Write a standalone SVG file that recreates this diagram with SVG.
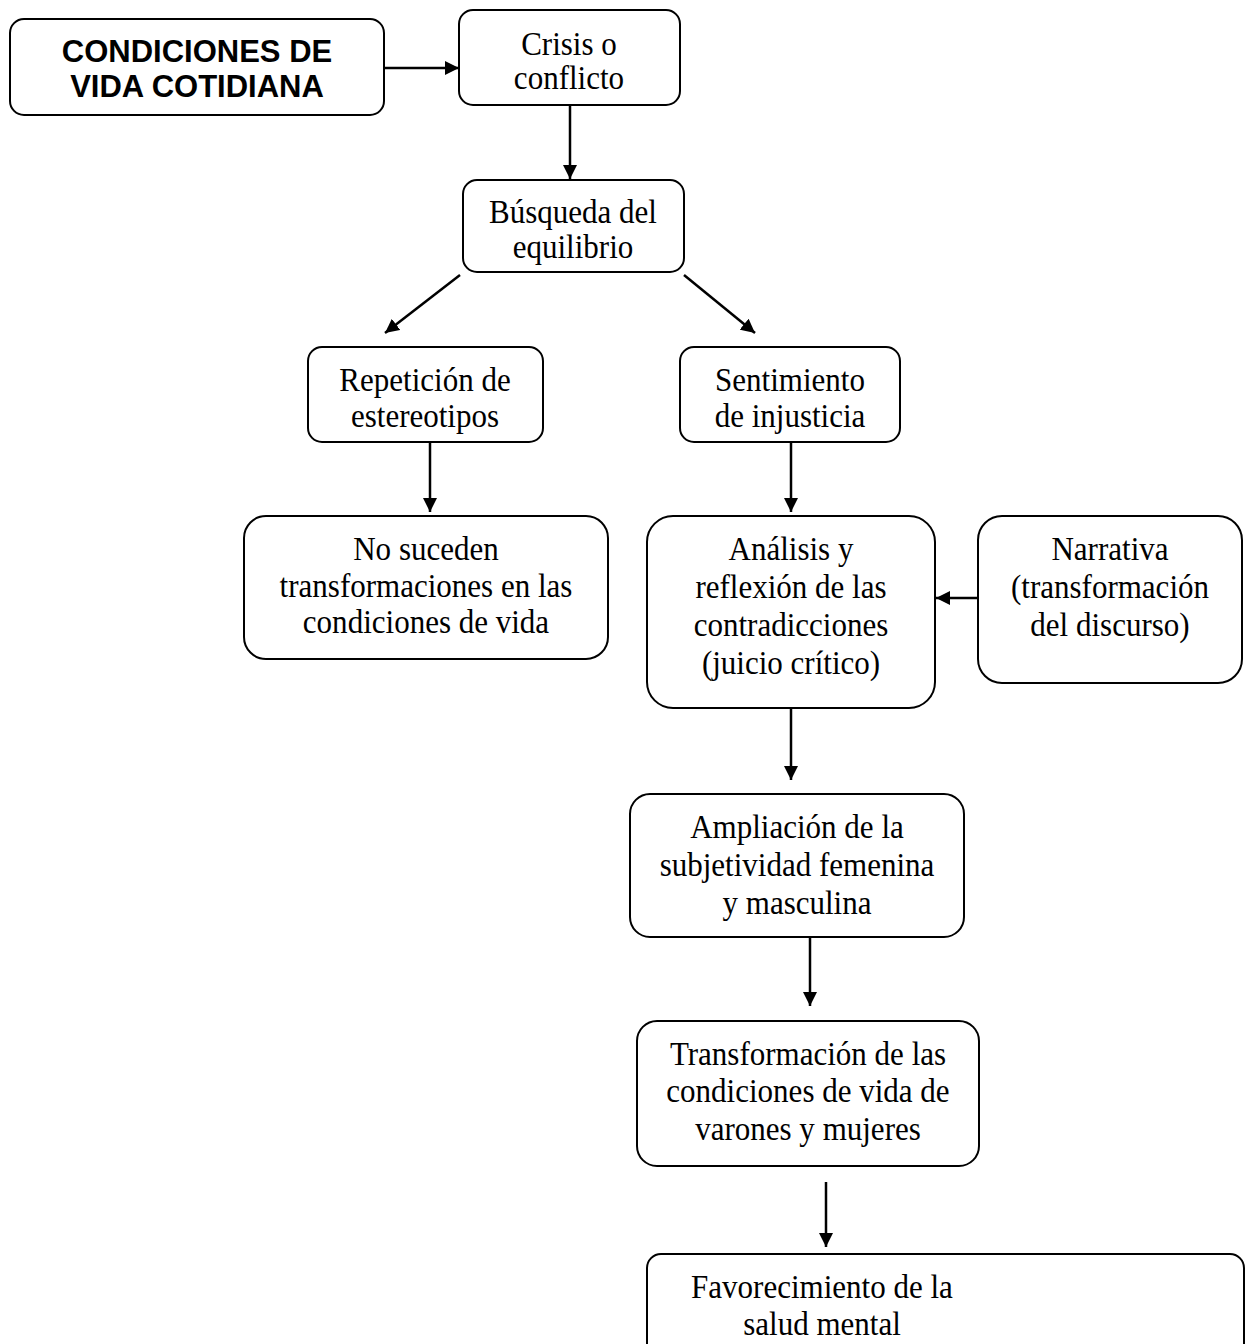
<svg xmlns="http://www.w3.org/2000/svg" width="1247" height="1344" viewBox="0 0 1247 1344">
<defs>
<style>
.box{fill:#fff;stroke:#000;stroke-width:2}
.t{font-family:"Liberation Serif","Times New Roman",serif;font-size:33px;text-anchor:middle;fill:#000;transform-box:fill-box;transform-origin:center;transform:scaleX(0.94)}
.b{font-family:"Liberation Sans",Arial,sans-serif;font-size:31px;font-weight:bold;text-anchor:middle;fill:#000}
.c{stroke:#000;stroke-width:2.5;fill:none;marker-end:url(#ah)}
</style>
<marker id="ah" viewBox="0 0 14 14" refX="14" refY="7" markerWidth="14" markerHeight="14" markerUnits="userSpaceOnUse" orient="auto">
<path d="M0,0 L14,7 L0,14 z" fill="#000"/>
</marker>
</defs>
<rect width="1247" height="1344" fill="#fff"/>
<g id="connectors">
<line class="c" x1="384" y1="68" x2="459" y2="68"/>
<line class="c" x1="570" y1="105" x2="570" y2="179"/>
<line class="c" x1="460" y1="275" x2="385" y2="333"/>
<line class="c" x1="684" y1="275" x2="755" y2="333"/>
<line class="c" x1="430" y1="442" x2="430" y2="512"/>
<line class="c" x1="791" y1="442" x2="791" y2="512"/>
<line class="c" x1="978" y1="598" x2="936" y2="598"/>
<line class="c" x1="791" y1="708" x2="791" y2="780"/>
<line class="c" x1="810" y1="937" x2="810" y2="1006"/>
<line class="c" x1="826" y1="1182" x2="826" y2="1247"/>
</g>
<g id="n1"><rect class="box" x="10" y="19" width="374" height="96" rx="14"/>
<text class="b" x="197" y="62">CONDICIONES DE</text><text class="b" x="197" y="97">VIDA COTIDIANA</text></g>
<g id="n2"><rect class="box" x="459" y="10" width="221" height="95" rx="14"/>
<text class="t" x="569" y="55">Crisis o</text><text class="t" x="569" y="89">conflicto</text></g>
<g id="n3"><rect class="box" x="463" y="180" width="221" height="92" rx="14"/>
<text class="t" x="573" y="223">Búsqueda del</text><text class="t" x="573" y="258">equilibrio</text></g>
<g id="n4"><rect class="box" x="308" y="347" width="235" height="95" rx="14"/>
<text class="t" x="425" y="391">Repetición de</text><text class="t" x="425" y="427">estereotipos</text></g>
<g id="n5"><rect class="box" x="680" y="347" width="220" height="95" rx="14"/>
<text class="t" x="790" y="391">Sentimiento</text><text class="t" x="790" y="427">de injusticia</text></g>
<g id="n6"><rect class="box" x="244" y="516" width="364" height="143" rx="22"/>
<text class="t" x="426" y="560">No suceden</text><text class="t" x="426" y="597">transformaciones en las</text><text class="t" x="426" y="633">condiciones de vida</text></g>
<g id="n7"><rect class="box" x="647" y="516" width="288" height="192" rx="26"/>
<text class="t" x="791" y="560">Análisis y</text><text class="t" x="791" y="598">reflexión de las</text><text class="t" x="791" y="636">contradicciones</text><text class="t" x="791" y="674">(juicio crítico)</text></g>
<g id="n8"><rect class="box" x="978" y="516" width="264" height="167" rx="24"/>
<text class="t" x="1110" y="560">Narrativa</text><text class="t" x="1110" y="598">(transformación</text><text class="t" x="1110" y="636">del discurso)</text></g>
<g id="n9"><rect class="box" x="630" y="794" width="334" height="143" rx="20"/>
<text class="t" x="797" y="838">Ampliación de la</text><text class="t" x="797" y="876">subjetividad femenina</text><text class="t" x="797" y="914">y masculina</text></g>
<g id="n10"><rect class="box" x="637" y="1021" width="342" height="145" rx="20"/>
<text class="t" x="808" y="1065">Transformación de las</text><text class="t" x="808" y="1102">condiciones de vida de</text><text class="t" x="808" y="1140">varones y mujeres</text></g>
<g id="n11"><rect class="box" x="647" y="1254" width="597" height="110" rx="14"/>
<text class="t" x="822" y="1298">Favorecimiento de la</text><text class="t" x="822" y="1335">salud mental</text></g>
</svg>
